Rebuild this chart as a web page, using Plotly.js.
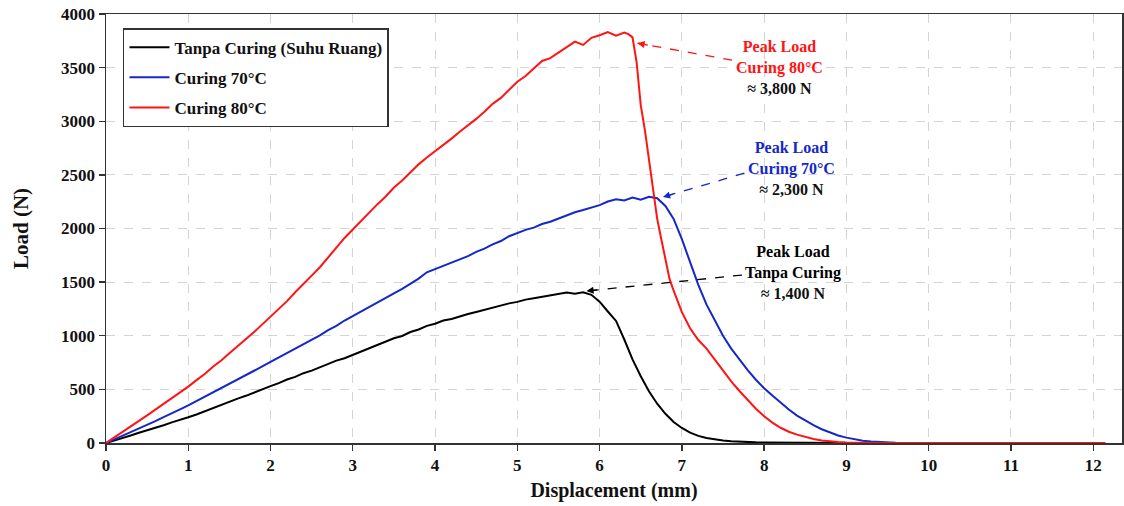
<!DOCTYPE html>
<html>
<head>
<meta charset="utf-8">
<script src="https://cdn.plot.ly/plotly-3.0.1.min.js"></script>
<style>html,body{margin:0;padding:0;background:#fff;}#chart{width:1124px;height:506px;}</style>
</head>
<body>
<div id="chart"></div>
<script>
// ---- Data ----
const seriesNames = ["Tanpa Curing (Suhu Ruang)", "Curing 70°C", "Curing 80°C"];

const dispBlack = [0,0.1,0.2,0.3,0.4,0.5,0.6,0.7,0.8,0.9,1.0,1.1,1.2,1.3,1.4,1.5,1.6,1.7,1.8,1.9,2.0,2.1,2.2,2.3,2.4,2.5,2.6,2.7,2.8,2.9,3.0,3.1,3.2,3.3,3.4,3.5,3.6,3.7,3.8,3.9,4.0,4.1,4.2,4.3,4.4,4.5,4.6,4.7,4.8,4.9,5.0,5.1,5.2,5.3,5.4,5.5,5.6,5.7,5.8,5.9,6.0,6.1,6.2,6.3,6.4,6.5,6.6,6.7,6.8,6.9,7.0,7.1,7.2,7.3,7.4,7.5,7.6,7.7,7.8,7.9,8.0,8.2,8.5,8.8,9.0];
const loadBlack = [0,22,47,70,96,118,143,165,192,213,240,266,297,324,355,383,414,440,472,499,530,558,592,617,651,675,707,736,768,790,822,852,880,916,943,976,998,1035,1058,1092,1112,1142,1156,1182,1203,1222,1243,1264,1283,1302,1316,1337,1350,1365,1376,1393,1403,1392,1406,1382,1318,1226,1138,965,780,622,482,366,272,196,140,96,66,46,32,23,16,11,8,6,5,3,2,1,0];

const dispBlue = [0,0.1,0.2,0.3,0.4,0.5,0.6,0.7,0.8,0.9,1.0,1.1,1.2,1.3,1.4,1.5,1.6,1.7,1.8,1.9,2.0,2.1,2.2,2.3,2.4,2.5,2.6,2.7,2.8,2.9,3.0,3.1,3.2,3.3,3.4,3.5,3.6,3.7,3.8,3.9,4.0,4.1,4.2,4.3,4.4,4.5,4.6,4.7,4.8,4.9,5.0,5.1,5.2,5.3,5.4,5.5,5.6,5.7,5.8,5.9,6.0,6.1,6.2,6.3,6.4,6.5,6.6,6.7,6.8,6.9,7.0,7.1,7.2,7.3,7.4,7.5,7.6,7.7,7.8,7.9,8.0,8.1,8.2,8.3,8.4,8.5,8.6,8.7,8.8,8.9,9.0,9.1,9.2,9.3,9.4,9.5,9.6,9.7];
const loadBlue = [0,33,66,101,134,171,204,241,274,313,350,390,427,468,506,550,588,632,670,714,756,797,836,882,919,966,1004,1053,1093,1142,1183,1226,1266,1307,1348,1396,1438,1487,1533,1592,1622,1652,1678,1714,1743,1782,1813,1852,1883,1928,1958,1987,2008,2042,2063,2092,2118,2152,2172,2198,2218,2252,2272,2262,2288,2268,2296,2282,2210,2090,1900,1687,1475,1290,1150,1000,880,775,680,590,510,442,376,312,256,210,166,128,96,70,50,33,21,13,7,4,2,0];

const dispRed = [0,0.1,0.2,0.3,0.4,0.5,0.6,0.7,0.8,0.9,1.0,1.1,1.2,1.3,1.4,1.5,1.6,1.7,1.8,1.9,2.0,2.1,2.2,2.3,2.4,2.5,2.6,2.7,2.8,2.9,3.0,3.1,3.2,3.3,3.4,3.5,3.6,3.7,3.8,3.9,4.0,4.1,4.2,4.3,4.4,4.5,4.6,4.7,4.8,4.9,5.0,5.1,5.2,5.3,5.4,5.5,5.6,5.7,5.8,5.9,6.0,6.1,6.2,6.3,6.35,6.4,6.45,6.5,6.55,6.6,6.65,6.7,6.75,6.8,6.85,6.9,7.0,7.1,7.2,7.3,7.4,7.5,7.6,7.7,7.8,7.9,8.0,8.1,8.2,8.3,8.4,8.5,8.6,8.7,8.8,8.9,9.0,9.2,9.4,10.0,11.0,12.15];
const loadRed = [0,50,102,151,206,257,311,364,419,471,526,586,644,711,769,836,899,966,1034,1106,1176,1251,1323,1406,1479,1561,1639,1731,1818,1912,1990,2072,2148,2227,2298,2382,2448,2522,2598,2662,2718,2782,2838,2902,2958,3022,3088,3162,3218,3292,3368,3422,3488,3562,3588,3642,3688,3742,3712,3778,3802,3832,3798,3826,3812,3782,3550,3150,2920,2650,2380,2090,1900,1720,1530,1420,1220,1070,960,880,780,670,575,485,400,320,250,190,142,105,78,55,37,24,15,9,5,2,0,0,0,0];

// Peak annotations
const peakLabels = ["Peak Load<br>Tanpa Curing", "Peak Load<br>Curing 70°C", "Peak Load<br>Curing 80°C"];
const peakValues = ["≈ 1,400 N", "≈ 2,300 N", "≈ 3,800 N"];
const peakTipX = [5.84, 6.77, 6.46];
const peakTipY = [1417, 2293, 3728];
const peakTailX = [7.73, 7.76, 7.61];
const peakTailY = [1566, 2516, 3570];
const peakTextX = [8.35, 8.33, 8.19];
const peakTextY = [1590, 2560, 3505];

const colors = ["#000000", "#1428c8", "#ff1414"];
const FONT = '"Liberation Serif", "Times New Roman", serif';

const traces = [
  {x: dispBlack, y: loadBlack, name: seriesNames[0], legendgroup: "a", mode: "lines", line: {color: colors[0], width: 2}},
  {x: dispBlue, y: loadBlue, name: seriesNames[1], legendgroup: "b", mode: "lines", line: {color: colors[1], width: 2}},
  {x: dispRed, y: loadRed, name: seriesNames[2], legendgroup: "c", mode: "lines", line: {color: colors[2], width: 2}}
];

const shapes = [];
const annotations = [];
for (let i = 0; i < 3; i++) {
  shapes.push({type: "line", xref: "x", yref: "y", x0: peakTailX[i], y0: peakTailY[i], x1: peakTipX[i], y1: peakTipY[i],
    line: {color: colors[i], width: 1.3, dash: "dash"}});
  const dxp = (peakTailX[i] - peakTipX[i]) * 82.3;
  const dyp = -(peakTailY[i] - peakTipY[i]) * 0.10725;
  const len = Math.sqrt(dxp*dxp + dyp*dyp);
  annotations.push({x: peakTipX[i], y: peakTipY[i], xref: "x", yref: "y", text: "", showarrow: true,
    ax: dxp/len*12, ay: dyp/len*12, arrowhead: 2, arrowsize: 1.1, arrowwidth: 1.3, arrowcolor: colors[i]});
  annotations.push({x: peakTextX[i], y: peakTextY[i], xref: "x", yref: "y", showarrow: false,
    text: '<span style="color:' + colors[i] + '">' + peakLabels[i] + '</span><br>' + peakValues[i],
    font: {family: FONT, size: 16, color: "#111", weight: 700}, align: "center"});
}

const layout = {
  width: 1124, height: 506,
  margin: {l: 106, r: 2, t: 14, b: 63},
  paper_bgcolor: "#fff", plot_bgcolor: "#fff",
  font: {family: FONT, color: "#111", weight: 700},
  showlegend: true,
  legend: {x: 0.0167, y: 0.967, xanchor: "left", yanchor: "top", bgcolor: "#fff", bordercolor: "#333", borderwidth: 1.5,
    font: {family: FONT, size: 17, color: "#111", weight: 700}, tracegroupgap: 5, traceorder: "grouped", itemwidth: 40},
  xaxis: {range: [0, 12.35], dtick: 1, tick0: 0, ticks: "outside", ticklen: 6, tickwidth: 1.3, tickcolor: "#333",
    showline: true, linecolor: "#333", linewidth: 1.5, mirror: true, zeroline: false,
    showgrid: true, gridcolor: "#d4d4d4", griddash: "dash", gridwidth: 1,
    tickfont: {family: FONT, size: 17, color: "#111", weight: 700},
    title: {text: "Displacement (mm)", font: {family: FONT, size: 20, color: "#111", weight: 700}, standoff: 9}},
  yaxis: {range: [0, 4000], dtick: 500, tick0: 0, ticks: "outside", ticklen: 6, tickwidth: 1.3, tickcolor: "#333",
    showline: true, linecolor: "#333", linewidth: 1.5, mirror: true, zeroline: false,
    showgrid: true, gridcolor: "#d4d4d4", griddash: "dash", gridwidth: 1,
    tickfont: {family: FONT, size: 17, color: "#111", weight: 700},
    title: {text: "Load (N)", font: {family: FONT, size: 21, color: "#111", weight: 700}, standoff: 26}},
  shapes: shapes,
  annotations: annotations
};

Plotly.newPlot("chart", traces, layout, {displayModeBar: false, staticPlot: true});
</script>
</body>
</html>
